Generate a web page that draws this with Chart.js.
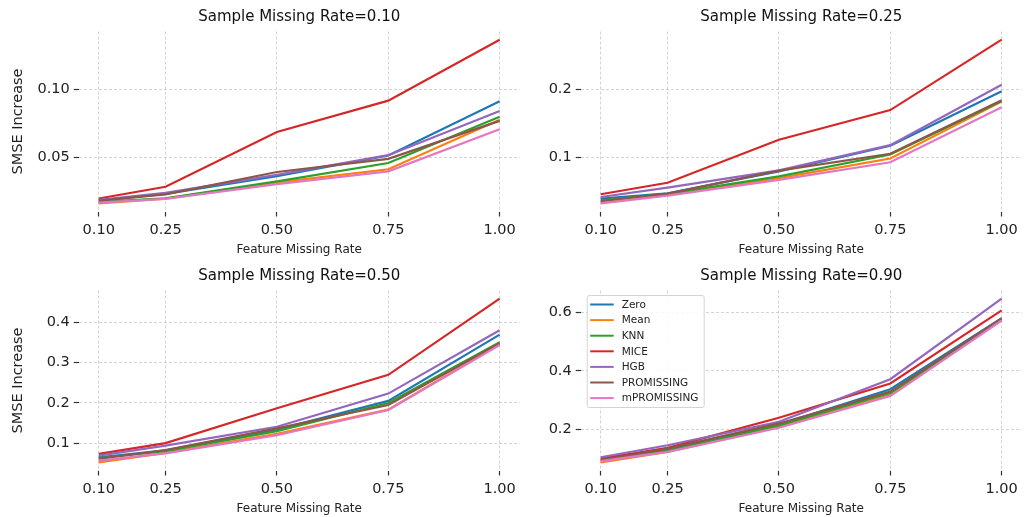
<!DOCTYPE html>
<html>
<head>
<meta charset="utf-8">
<script src="https://cdn.jsdelivr.net/npm/chart.js@4.4.0/dist/chart.umd.min.js"></script>
<style>
  body { margin: 0; background: #fff; }
  #wrap { position: relative; width: 1024px; height: 517px; }
  canvas { position: absolute; }
</style>
</head>
<body>
<div id="wrap">
  <canvas id="c1" width="521" height="258" style="left:0;top:0"></canvas>
  <canvas id="c2" width="503" height="258" style="left:521px;top:0"></canvas>
  <canvas id="c3" width="521" height="258" style="left:0;top:259px"></canvas>
  <canvas id="c4" width="503" height="258" style="left:521px;top:259px"></canvas>
</div>
<script>
// x values (feature missing rate)
const featureRates = [0.10, 0.25, 0.50, 0.75, 1.00];
const methods = ['Zero', 'Mean', 'KNN', 'MICE', 'HGB', 'PROMISSING', 'mPROMISSING'];
const colors = ['#1f77b4', '#ff7f0e', '#2ca02c', '#d62728', '#9467bd', '#8c564b', '#e377c2'];

// SMSE increase, one row per method (same order as methods)
const rate010 = [
  [0.0185, 0.0234, 0.0364, 0.0515, 0.0911],
  [0.0165, 0.0200, 0.0318, 0.0414, 0.0776],
  [0.0175, 0.0202, 0.0325, 0.0460, 0.0798],
  [0.0200, 0.0286, 0.0687, 0.0916, 0.1362],
  [0.0190, 0.0241, 0.0374, 0.0517, 0.0840],
  [0.0185, 0.0231, 0.0394, 0.0490, 0.0768],
  [0.0170, 0.0197, 0.0305, 0.0399, 0.0707]
];
const rate025 = [
  [0.0390, 0.0470, 0.0792, 0.1168, 0.1970],
  [0.0337, 0.0446, 0.0693, 0.0980, 0.1817],
  [0.0366, 0.0460, 0.0718, 0.1040, 0.1827],
  [0.0455, 0.0624, 0.1257, 0.1693, 0.2728],
  [0.0415, 0.0554, 0.0807, 0.1178, 0.2064],
  [0.0356, 0.0465, 0.0802, 0.1050, 0.1837],
  [0.0322, 0.0436, 0.0668, 0.0926, 0.1733]
];
const rate050 = [
  [0.0650, 0.0820, 0.1340, 0.2047, 0.3692],
  [0.0525, 0.0760, 0.1232, 0.1830, 0.3460],
  [0.0630, 0.0800, 0.1300, 0.1997, 0.3500],
  [0.0733, 0.1000, 0.1864, 0.2695, 0.4582],
  [0.0690, 0.0941, 0.1407, 0.2229, 0.3800],
  [0.0610, 0.0830, 0.1365, 0.1947, 0.3476],
  [0.0567, 0.0745, 0.1200, 0.1822, 0.3435]
];
const rate090 = [
  [0.0968, 0.1300, 0.2172, 0.3375, 0.5805],
  [0.0877, 0.1232, 0.2080, 0.3180, 0.5780],
  [0.0940, 0.1278, 0.2138, 0.3249, 0.5771],
  [0.1003, 0.1370, 0.2401, 0.3570, 0.6069],
  [0.1049, 0.1461, 0.2264, 0.3719, 0.6470],
  [0.0950, 0.1347, 0.2206, 0.3295, 0.5794],
  [0.0920, 0.1232, 0.2057, 0.3140, 0.5725]
];

const ticks010 = [0.05, 0.10];
const ticks025 = [0.1, 0.2];
const ticks050 = [0.1, 0.2, 0.3, 0.4];
const ticks090 = [0.2, 0.4, 0.6];

const FONT = 'DejaVu Sans';

// legend box drawn inside the last panel, matplotlib style
const legendBox = {
  id: 'legendBox',
  afterDraw(chart) {
    const { ctx, chartArea } = chart;
    const x0 = chartArea.left + 6, y0 = chartArea.top + 4.5;
    const w = 117, h = 112, rowH = 15.6;
    ctx.save();
    ctx.fillStyle = 'rgba(255,255,255,0.85)';
    ctx.strokeStyle = '#d4d4d4';
    ctx.lineWidth = 1;
    ctx.beginPath();
    ctx.roundRect(x0 + 0.5, y0 + 0.5, w, h, 2);
    ctx.fill();
    ctx.stroke();
    ctx.font = '10.5px "' + FONT + '"';
    ctx.textBaseline = 'middle';
    ctx.fillStyle = '#222';
    chart.data.datasets.forEach((ds, i) => {
      const y = y0 + 9.5 + i * rowH;
      ctx.strokeStyle = ds.borderColor;
      ctx.lineWidth = 2;
      ctx.beginPath();
      ctx.moveTo(x0 + 3.5, y);
      ctx.lineTo(x0 + 27, y);
      ctx.stroke();
      ctx.fillText(ds.label, x0 + 35, y + 0.5);
    });
    ctx.restore();
  }
};

function makePanel(id, title, rows, yTicks, dec, yWidth, padRight, showYTitle, withLegend) {
  const all = rows.flat();
  const lo = Math.min(...all), hi = Math.max(...all);
  const m = (hi - lo) * 0.05;

  const datasets = rows.map((vals, i) => ({
    label: methods[i],
    data: featureRates.map((x, j) => ({ x: x, y: vals[j] })),
    borderColor: colors[i],
    backgroundColor: colors[i],
    borderWidth: 2.2,
    pointRadius: 0,
    tension: 0,
    order: rows.length - i
  }));

  const grid = {
    color: '#c8c8c8',
    lineWidth: 0.8,
    borderDash: [3, 2],
    tickLength: 5,
    tickColor: '#333',
    tickWidth: 1.2,
    tickBorderDash: []
  };

  new Chart(document.getElementById(id), {
    type: 'line',
    data: { datasets },
    plugins: withLegend ? [legendBox] : [],
    options: {
      responsive: false,
      animation: false,
      layout: { padding: { left: 0, right: padRight, top: 0, bottom: 0 } },
      plugins: {
        legend: { display: false },
        tooltip: { enabled: false },
        title: {
          display: true,
          fullSize: false,
          text: title,
          color: '#111',
          font: { family: FONT, size: 15, weight: 'normal' },
          padding: { top: 8.5, bottom: 5 }
        }
      },
      scales: {
        x: {
          type: 'linear',
          min: 0.055,
          max: 1.045,
          afterBuildTicks: s => { s.ticks = featureRates.map(v => ({ value: v })); },
          afterFit: s => { s.height = 46.5; },
          ticks: {
            callback: v => v.toFixed(2),
            color: '#222',
            font: { family: FONT, size: 14.5 },
            padding: 5,
            maxRotation: 0,
            autoSkip: false
          },
          grid: grid,
          border: { display: false, dash: [3, 2] },
          title: {
            display: true,
            text: 'Feature Missing Rate',
            color: '#222',
            font: { family: FONT, size: 12 },
            padding: { top: 0, bottom: 0.5 }
          }
        },
        y: {
          min: lo - m,
          max: hi + m,
          afterBuildTicks: s => { s.ticks = yTicks.map(v => ({ value: v })); },
          afterFit: s => { s.width = yWidth; },
          ticks: {
            callback: v => v.toFixed(dec),
            color: '#222',
            font: { family: FONT, size: 14.5 },
            padding: 4
          },
          grid: grid,
          border: { display: false, dash: [3, 2] },
          title: {
            display: showYTitle,
            text: 'SMSE Increase',
            color: '#222',
            font: { family: FONT, size: 14.5 },
            padding: { top: 9.5, bottom: 0 }
          }
        }
      }
    }
  });
}

makePanel('c1', 'Sample Missing Rate=0.10', rate010, ticks010, 2, 78.7, 1.3, true, false);
makePanel('c2', 'Sample Missing Rate=0.25', rate025, ticks025, 1, 59.7, 2.3, false, false);
makePanel('c3', 'Sample Missing Rate=0.50', rate050, ticks050, 1, 78.7, 1.3, true, false);
makePanel('c4', 'Sample Missing Rate=0.90', rate090, ticks090, 1, 59.7, 2.3, false, true);
</script>
</body>
</html>
